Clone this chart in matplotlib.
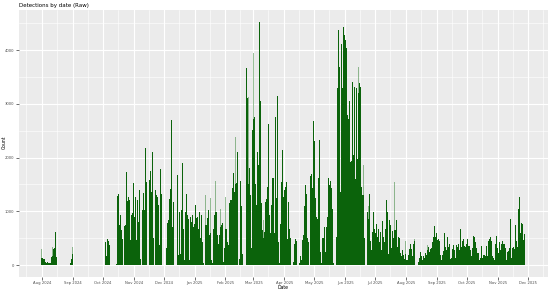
import matplotlib
matplotlib.use("Agg")
import matplotlib.pyplot as plt
import matplotlib.dates as mdates
import pandas as pd

# daily counts per month, starting on day 1 of each month
aug24 = [130, 130, 120, 110, 60, 40, 50, 30, 30, 40, 150, 160, 300, 310, 620, 150,
         0, 0, 0, 0, 0, 0, 0, 0, 0, 0, 0, 0, 0, 40, 120]
sep24 = [200] + [0] * 29
oct24 = [0, 0, 0, 430, 170, 480, 450, 370, 0, 0, 0, 0, 0, 0, 20, 1280, 1330, 740, 930,
         650, 480, 0, 725, 744, 1730, 1190, 1270, 1210, 465, 930, 960]
nov24 = [1530, 900, 1270, 465, 1210, 810, 1400, 120, 0, 1020, 1345, 1020, 2170, 1550, 0,
         0, 1580, 1750, 1360, 2110, 500, 0, 1390, 1300, 1270, 1120, 370, 1780, 1320, 0]
dec24 = [0, 0, 0, 320, 790, 840, 1220, 1420, 2700, 710, 1170, 0, 0, 0, 1680, 180, 990,
         200, 1020, 1900, 680, 90, 990, 1330, 930, 860, 90, 900, 800, 930, 700]
jan25 = [756, 1115, 880, 900, 680, 990, 500, 930, 430, 30, 0, 740, 740, 870, 1020, 560,
         600, 90, 30, 680, 930, 990, 990, 560, 400, 560, 700, 740, 780, 60, 310]
feb25 = [680, 680, 430, 370, 1150, 1210, 1210, 1430, 1720, 1360, 1500, 1520, 2100, 0,
         120, 1560, 1090, 200, 0, 0, 0, 3660, 3100, 1500, 1800, 1300, 310, 2510]
mar25 = [2720, 2760, 1500, 1115, 2110, 1860, 4530, 3050, 1150, 650, 500, 620, 1180, 1230,
         1460, 2630, 930, 590, 1115, 1620, 1620, 590, 2760, 1240, 3140, 430, 30, 756,
         1550, 2140, 1270]
apr25 = [1400, 1460, 1550, 480, 1170, 680, 500, 0, 0, 60, 400, 480, 440, 0, 0, 30, 160,
         90, 460, 560, 1090, 1490, 1330, 500, 430, 0, 1650, 1700, 1440, 2680]
may25 = [2300, 1250, 900, 856, 1620, 2330, 250, 30, 500, 500, 700, 250, 710, 900, 1620,
         1490, 1560, 1430, 1050, 30, 10, 0, 530, 3290, 4370, 3690, 1360, 4120, 3290, 4430,
         4280]
jun25 = [4180, 4030, 2790, 2720, 3050, 1920, 1930, 3410, 2050, 3320, 1610, 3300, 1980,
         3200, 3380, 3320, 1460, 1300, 1300, 500, 0, 0, 990, 856, 1330, 440, 280, 620, 990,
         680]
jul25 = [590, 756, 530, 680, 430, 620, 280, 820, 530, 430, 680, 1210, 990, 200, 840, 740,
         310, 630, 500, 650, 650, 840, 340, 530, 500, 220, 160, 280, 190, 120, 200]
aug25 = [90, 100, 190, 300, 390, 300, 170, 390, 450, 0, 0, 0, 60, 140, 250, 160, 100,
         160, 140, 220, 190, 280, 340, 250, 290, 310, 420, 530, 730, 530, 600]
sep25 = [470, 480, 450, 190, 90, 190, 260, 600, 340, 280, 530, 330, 400, 120, 140, 290,
         370, 280, 140, 370, 340, 390, 280, 680, 340, 450, 480, 350, 330, 390]
oct25 = [480, 350, 350, 280, 170, 310, 540, 530, 430, 310, 220, 230, 90, 140, 350, 140,
         190, 190, 160, 350, 170, 450, 480, 520, 450, 160, 140, 100, 390, 540, 310]
nov25 = [220, 430, 280, 390, 450, 390, 400, 310, 100, 250, 260, 310, 850, 140, 310, 330,
         290, 740, 450, 340, 1050, 1270, 600, 790, 770, 470, 580]

month_starts = ["2024-08-01", "2024-09-01", "2024-10-01", "2024-11-01", "2024-12-01",
                "2025-01-01", "2025-02-01", "2025-03-01", "2025-04-01", "2025-05-01",
                "2025-06-01", "2025-07-01", "2025-08-01", "2025-09-01", "2025-10-01",
                "2025-11-01"]
month_counts = [aug24, sep24, oct24, nov24, dec24, jan25, feb25, mar25, apr25, may25,
                jun25, jul25, aug25, sep25, oct25, nov25]

# lighter (single-record) bars that stick out above the dark ones
light_dates = ["2024-08-01", "2024-08-12", "2024-09-01", "2025-01-12", "2025-01-17",
               "2025-01-22", "2025-01-27", "2025-02-01", "2025-02-11", "2025-02-24",
               "2025-03-01", "2025-03-11", "2025-06-14", "2025-06-19", "2025-06-24",
               "2025-07-20", "2025-07-31", "2025-08-09", "2025-08-22"]
light_counts = [290, 340, 340, 1300, 1240, 1560, 1040, 1270, 2390, 3130, 3940, 840, 3690,
                1860, 1100, 1550, 450, 480, 380]

dates = []
counts = []
for start, vals in zip(month_starts, month_counts):
    dates += list(pd.date_range(start, periods=len(vals), freq="D"))
    counts += vals
light_dates = pd.to_datetime(light_dates)

fig = plt.figure(figsize=(5.53, 2.91), dpi=100)
ax = fig.add_axes([0.034, 0.048, 0.957, 0.917])
ax.set_facecolor("#EBEBEB")

ax.bar(light_dates, light_counts, width=0.9, color="#006400", alpha=0.4, linewidth=0)
ax.bar(dates, counts, width=0.9, color="#0b630b", linewidth=0)

ax.set_xlim(pd.Timestamp("2024-07-09"), pd.Timestamp("2025-12-21"))
ax.set_ylim(-223, 4743)

ax.xaxis.set_major_locator(mdates.MonthLocator())
ax.xaxis.set_major_formatter(mdates.DateFormatter("%b %Y"))
ax.xaxis.set_minor_locator(mdates.MonthLocator(bymonthday=16))
ax.set_yticks([0, 1000, 2000, 3000, 4000])
ax.set_yticks([500, 1500, 2500, 3500, 4500], minor=True)

ax.set_axisbelow(True)
ax.grid(which="major", color="white", linewidth=0.8)
ax.grid(which="minor", color="white", linewidth=0.4)
for s in ax.spines.values():
    s.set_visible(False)

ax.tick_params(which="major", length=2, width=0.5, color="#333333",
               labelsize=2.7, labelcolor="#4D4D4D", pad=1.2)
ax.tick_params(which="minor", length=0)

ax.set_title("Detections by date (Raw)", loc="left", fontsize=4, pad=2)
fig.text(0.512, 0.003, "Date", fontsize=3.3, ha="center", va="bottom")
fig.text(0.004, 0.51, "Count", fontsize=3.3, rotation=90, ha="left", va="center")

fig.savefig("out.png", dpi=100)
